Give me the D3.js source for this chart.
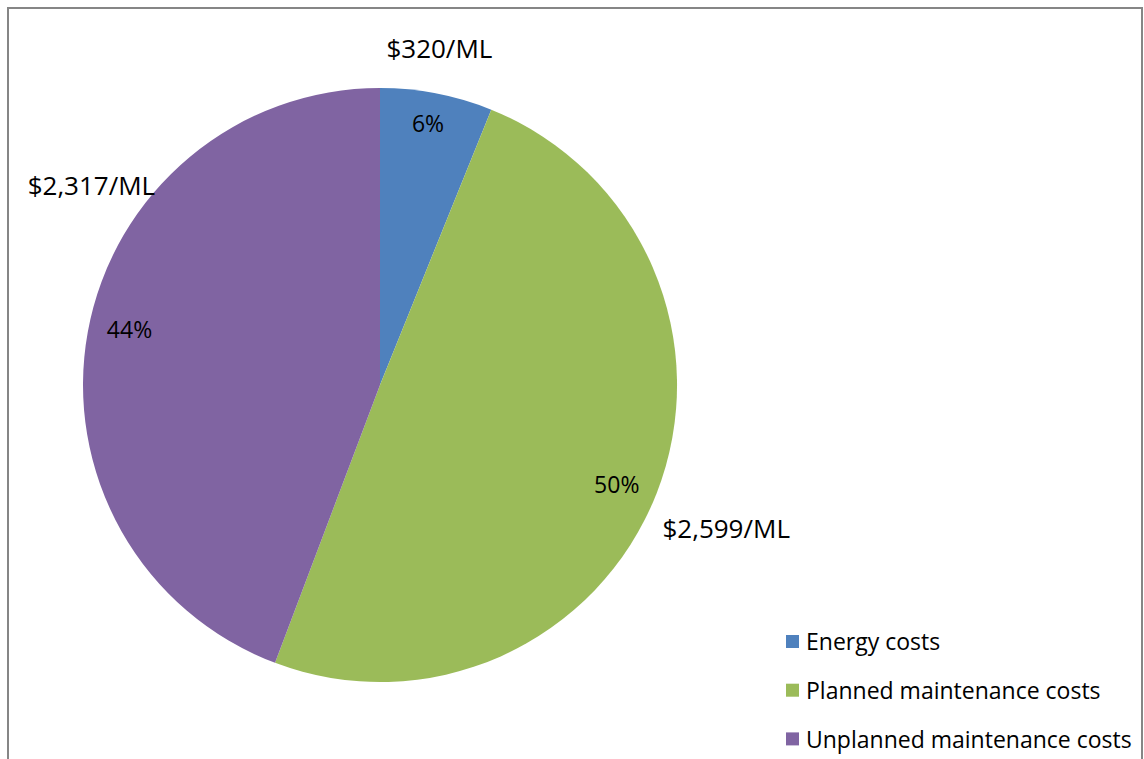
<!DOCTYPE html>
<html>
<head>
<meta charset="utf-8">
<script src="https://cdn.jsdelivr.net/npm/d3@7/dist/d3.min.js"></script>
<style>
  html, body { margin: 0; padding: 0; background: #fff; overflow: hidden; }
  svg { display: block; font-family: "Open Sans", Lato, sans-serif; }
</style>
</head>
<body>
<div id="chart"></div>
<script>
//Datos
const categories = ['Energy costs', 'Planned maintenance costs', 'Unplanned maintenance costs'];
const costs = [320, 2599, 2317];
const costLabels = ['$320/ML', '$2,599/ML', '$2,317/ML'];
const colors = ['#4F81BD', '#9BBB59', '#8064A2'];

let width = 1144, height = 759;

let svg = d3.select('#chart')
    .append('svg')
        .attr('width', width)
        .attr('height', height);

//Marco
svg.append('rect')
    .attr('x', 8)
    .attr('y', 8)
    .attr('width', 1134)
    .attr('height', 800)
    .attr('fill', '#fff')
    .attr('stroke', '#868686')
    .attr('stroke-width', 2);

let cx = 380, cy = 385, radius = 297;

let total = d3.sum(costs);
let data = categories.map(function(c, i) { return {cat: c, value: costs[i], label: costLabels[i], color: colors[i]}; });

let pie = d3.pie()
    .sort(null)
    .value(function(d) { return d.value; });

let arc = d3.arc()
    .innerRadius(0)
    .outerRadius(radius);

let arcs = pie(data);

let g = svg.append('g')
    .attr('transform', 'translate(' + cx + ',' + cy + ')');

g.selectAll('path')
    .data(arcs)
    .enter()
    .append('path')
    .attr('d', arc)
    .attr('fill', function(d) { return d.data.color; });

//Posición polar de las etiquetas (ángulo en grados desde arriba, radio)
function polar(p) {
    let rad = p.a * Math.PI / 180;
    return [p.r * Math.sin(rad), -p.r * Math.cos(rad)];
}

//Etiquetas de porcentaje
let pctPlace = [{a: 10.4, r: 266}, {a: 112.9, r: 257}, {a: 282.4, r: 256.5}];

g.selectAll('.pct')
    .data(arcs)
    .enter()
    .append('text')
    .attr('class', 'pct')
    .attr('transform', function(d, i) { let c = polar(pctPlace[i]); return 'translate(' + c[0] + ',' + c[1] + ')'; })
    .attr('text-anchor', 'middle')
    .attr('dy', '0.36em')
    .style('font-size', '23px')
    .attr('fill', '#000')
    .text(function(d) { return Math.round(d.data.value / total * 100) + '%'; });

//Etiquetas de coste (colocadas a mano fuera del sector, como en el original)
let outerPlace = [{a: 10, r: 342}, {a: 112.6, r: 375}, {a: 304.7, r: 351}];

g.selectAll('.cost')
    .data(arcs)
    .enter()
    .append('text')
    .attr('class', 'cost')
    .attr('transform', function(d, i) { let c = polar(outerPlace[i]); return 'translate(' + c[0] + ',' + c[1] + ')'; })
    .attr('text-anchor', 'middle')
    .attr('dy', '0.36em')
    .style('font-size', '26px')
    .attr('fill', '#000')
    .text(function(d) { return d.data.label; });

//Leyenda
let legend = svg.append('g')
    .attr('transform', 'translate(786,642)');

let rows = legend.selectAll('g')
    .data(data)
    .enter()
    .append('g')
    .attr('transform', function(d, i) { return 'translate(0,' + (i * 48.7) + ')'; });

rows.append('rect')
    .attr('x', 0)
    .attr('y', -7)
    .attr('width', 13)
    .attr('height', 13)
    .attr('fill', function(d) { return d.color; });

rows.append('text')
    .attr('x', 20)
    .attr('y', 0)
    .attr('dy', '0.36em')
    .style('font-size', '23px')
    .attr('fill', '#000')
    .text(function(d) { return d.cat; });
</script>
</body>
</html>
